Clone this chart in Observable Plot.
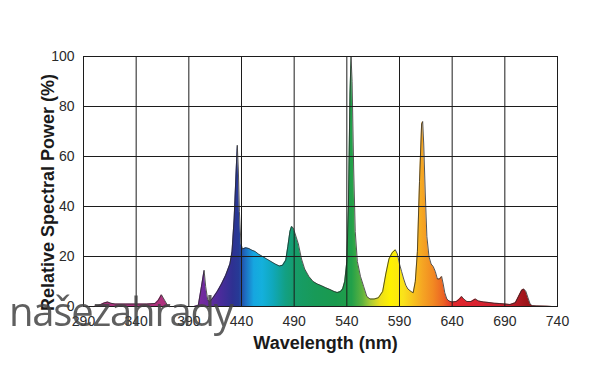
<!DOCTYPE html>
<html>
<head>
<meta charset="utf-8">
<script src="https://cdn.jsdelivr.net/npm/d3@7"></script>
<script src="https://cdn.jsdelivr.net/npm/@observablehq/plot@0.6"></script>
<style>
  html, body { margin: 0; padding: 0; background: #fff; }
  #wrap { position: relative; width: 600px; height: 388px; overflow: hidden; }
  #mark { position: absolute; left: 9px; top: 283px; font-family: "Open Sans", sans-serif; font-size: 40px; color: #444; opacity: 0.85; letter-spacing: -1.2px; filter: blur(0.6px); pointer-events: none; }
</style>
</head>
<body>
<div id="wrap"></div>
<script>
// Wavelength (nm) and relative spectral power (%)
const wavelengths = [300,305,310,313,316,320,330,340,350,358,361,364,367,370,372,395,399,402,404.5,406,408,410,413,417,421,425,429,431,433,435,436,437,438,439.5,441,444,447,450,453,456,460,464,468,472,476,479,482,484,486,487.5,489,491,494,497,500,504,508,512,516,520,524,528,531,534,536,538,540,541.5,543,544,545,546.5,548,550,553,556,559,562,566,570,574,577,580,583,586,588,590,592,594,596,598,601,603,605,607,609,611,612,613,614.5,616,618,620,622,624,626,628,630,631.5,633,635,637,640,644,647,649,651,654,658,662,665,670,675,680,685,690,695,700,703,706,708,710,712,714,716,720,730,735];
const power = [0,0.5,1.5,1.8,1.3,1.0,1.0,1.0,1.0,1.2,2.5,4.7,2.5,0.3,0,0,0.5,8,14.5,8,2.5,2,3.5,6,9,12.5,17,22,35,55,64.5,55,38,25,23,23.5,23.2,22.5,22,21,20,19,18,17,16.2,16.5,18.5,24,30,32,31.5,29,25,19,15,12,10,9,8.3,7.5,6.8,6,5.6,6,7,10,18,40,85,100,90,55,30,18,12,8,4,3,3,3.5,6,13,19,21.5,22.7,21,17,14,11,8.5,7,6,5.5,10,22,50,73,74,65,45,28,20,17,16,14,11,11,12,9,5.5,3,2.2,1.8,2,3,4,3,2,2,3,2.2,1.8,1.6,1.3,1.2,1,0.8,1.5,4,6.5,7,6,3.5,1,0.3,0.2,0.1,0];

const xTicks = [290,340,390,440,490,540,590,640,690,740];
const yTicks = [0,20,40,60,80,100];

// Colour of the fill at each wavelength
const stopNm = [290,380,400,420,432,438,444,452,460,470,482,492,510,530,545,555,563,572,582,594,602,612,622,632,642,665,695,708,722,740];
const stopColor = ["#a3307a","#b0327f","#7a2a9f","#4b2b9b","#2e3192","#263a96","#1e6cc0","#16a6e0","#14b0dc","#10a8bc","#12a084","#169c68","#189a58","#1a9a4e","#22a04a","#5db23e","#aacb35","#ecdf1c","#fff200","#f9e21b","#f8c81d","#f5a623","#f28a22","#ec6424","#e2262b","#d92230","#c41e2c","#a3161c","#8b0f10","#8b0f10"];

const data = wavelengths.map((w, i) => ({nm: w, p: power[i]}));

const chart = Plot.plot({
  width: 600,
  height: 388,
  marginLeft: 83,
  marginRight: 43,
  marginTop: 56,
  marginBottom: 82,
  x: {domain: [290, 740]},
  y: {domain: [0, 100]},
  style: {fontFamily: "'Liberation Sans', Arial, sans-serif", background: "#fff", color: "#222"},
  marks: [
    Plot.areaY(data, {x: "nm", y: "p", fill: "url(#spectrum)"}),
    Plot.lineY(data, {x: "nm", y: "p", stroke: "#2b2b2b", strokeWidth: 0.8}),
    Plot.gridX(xTicks, {stroke: "#1c1c1c", strokeOpacity: 1, strokeWidth: 1}),
    Plot.gridY(yTicks, {stroke: "#1c1c1c", strokeOpacity: 1, strokeWidth: 1}),
    Plot.frame({stroke: "#1c1c1c", strokeWidth: 1}),
    Plot.axisX(xTicks, {tickSize: 0, tickPadding: 10, fontSize: 14, fill: "#2a2a2a", label: null}),
    Plot.axisY(yTicks, {tickSize: 0, tickPadding: 9, fontSize: 14, fill: "#2a2a2a", label: null}),
    Plot.text(["Wavelength (nm)"], {frameAnchor: "bottom", lineAnchor: "middle", textAnchor: "middle", dy: 37, dx: 5, fontSize: 18, fontWeight: "bold", fill: "#1a1a1a"}),
    Plot.text(["Relative Spectral Power (%)"], {frameAnchor: "left", lineAnchor: "middle", textAnchor: "middle", dx: -35, dy: 11, rotate: -90, fontSize: 18, fontWeight: "bold", fill: "#1a1a1a"})
  ]
});

// Spectrum gradient positioned through the x scale
const xs = chart.scale("x");
const x1 = xs.apply(290), x2 = xs.apply(740);
const grad = d3.select(chart).insert("defs", ":first-child")
  .append("linearGradient")
  .attr("id", "spectrum")
  .attr("gradientUnits", "userSpaceOnUse")
  .attr("x1", x1).attr("x2", x2).attr("y1", 0).attr("y2", 0);
stopNm.forEach((nm, i) => {
  grad.append("stop")
    .attr("offset", (xs.apply(nm) - x1) / (x2 - x1))
    .attr("stop-color", stopColor[i]);
});

const wrap = document.getElementById("wrap");
wrap.appendChild(chart);
const wm = document.createElement("div");
wm.id = "mark";
wm.textContent = "našezahrady";
wrap.appendChild(wm);
</script>
</body>
</html>
